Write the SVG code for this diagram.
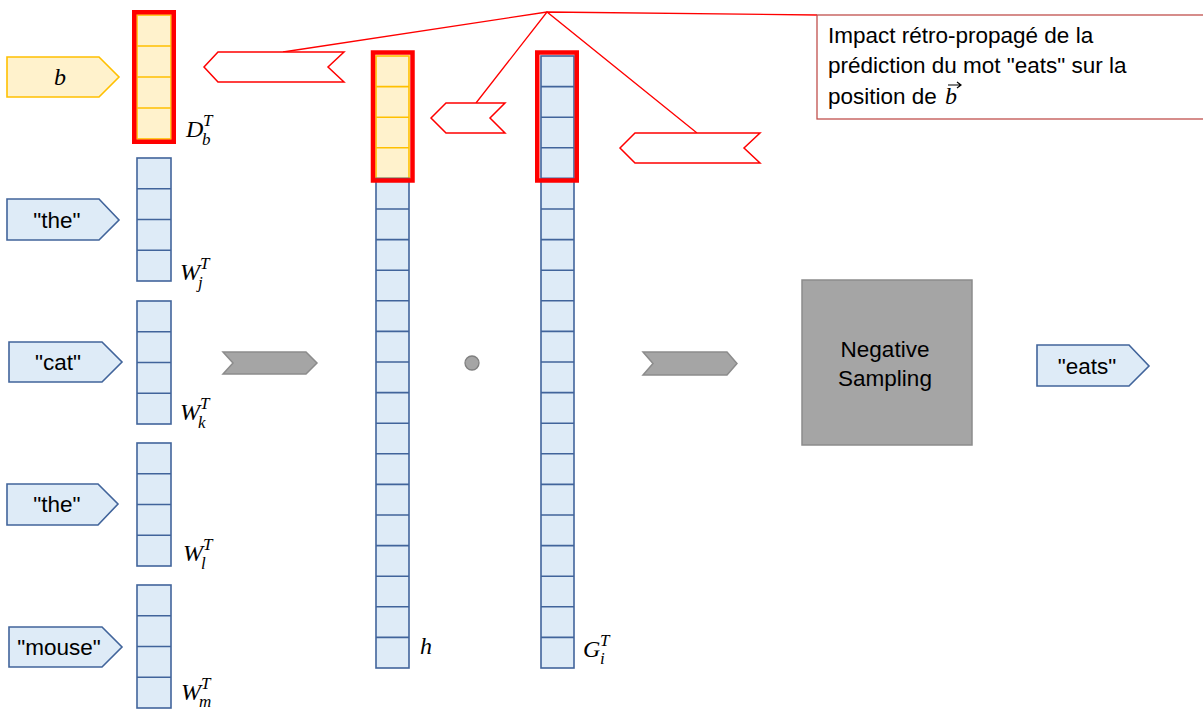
<svg xmlns="http://www.w3.org/2000/svg" width="1203" height="709" viewBox="0 0 1203 709">
<style>
.bcol{fill:#deebf7;stroke:#41649b;stroke-width:1.6}
.bdiv{fill:none;stroke:#41649b;stroke-width:1.6}
.ycol{fill:#fff2cc;stroke:#ffc000;stroke-width:1.6}
.ydiv{fill:none;stroke:#ffc000;stroke-width:1.6}
.frame{fill:none;stroke:#ff0000;stroke-width:4.5}
.pent{fill:#deebf7;stroke:#41649b;stroke-width:1.6}
.ypent{fill:#fff2cc;stroke:#ffc000;stroke-width:1.6}
.gray{fill:#a5a5a5;stroke:#8c8c8c;stroke-width:1.5}
.call{fill:#ffffff;stroke:#ff0000;stroke-width:1.5}
.lead{fill:none;stroke:#ff0000;stroke-width:1.3}
.t{font-family:"Liberation Sans",Arial,sans-serif;font-size:22.5px;fill:#000}
.m{font-family:"Liberation Serif","DejaVu Serif",serif;font-style:italic;font-size:24px;fill:#000}
.ms{font-family:"Liberation Serif","DejaVu Serif",serif;font-style:italic;font-size:17px;fill:#000}
</style>

<g id="connectors">
  <path class="lead" d="M283,52 L547,12 L817,15"/>
  <path class="lead" d="M476,103 L547,12 L697,133"/>
</g>

<g id="node-b">
  <polygon class="ypent" points="7,57 99,57 119,77 99,97 7,97"/>
  <text class="m" x="60" y="85" text-anchor="middle" font-size="25">b</text>
</g>
<g id="node-Db">
  <rect class="ycol" x="137" y="15" width="34" height="124"/>
  <path class="ydiv" d="M137,46H171M137,77H171M137,108H171"/>
  <rect class="frame" x="134.25" y="12.25" width="39.5" height="129.5"/>
  <text class="m" x="186" y="137">D</text>
  <text class="ms" x="203" y="126">T</text>
  <text class="ms" x="202" y="145">b</text>
</g>

<g id="node-the1">
  <polygon class="pent" points="7,199 99,199 119,220 99,240 7,240"/>
  <text class="t" x="57" y="228" text-anchor="middle">"the"</text>
</g>
<g id="node-Wj">
  <rect class="bcol" x="137" y="158" width="34" height="123"/>
  <path class="bdiv" d="M137,188.75H171M137,219.5H171M137,250.25H171"/>
  <text class="m" x="180" y="280">W</text>
  <text class="ms" x="200" y="269">T</text>
  <text class="ms" x="198" y="288">j</text>
</g>

<g id="node-cat">
  <polygon class="pent" points="9,342 102,342 122,362 102,382 9,382"/>
  <text class="t" x="58" y="370" text-anchor="middle">"cat"</text>
</g>
<g id="node-Wk">
  <rect class="bcol" x="137" y="301" width="34" height="123"/>
  <path class="bdiv" d="M137,331.75H171M137,362.5H171M137,393.25H171"/>
  <text class="m" x="180" y="420">W</text>
  <text class="ms" x="200" y="409">T</text>
  <text class="ms" x="198" y="428">k</text>
</g>

<g id="node-the2">
  <polygon class="pent" points="7,484 98,484 118,504 98,525 7,525"/>
  <text class="t" x="57" y="512" text-anchor="middle">"the"</text>
</g>
<g id="node-Wl">
  <rect class="bcol" x="137" y="443" width="34" height="123"/>
  <path class="bdiv" d="M137,473.75H171M137,504.5H171M137,535.25H171"/>
  <text class="m" x="183" y="561">W</text>
  <text class="ms" x="203" y="550">T</text>
  <text class="ms" x="201" y="569">l</text>
</g>

<g id="node-mouse">
  <polygon class="pent" points="9,627 102,627 122,647 102,667 9,667"/>
  <text class="t" x="59" y="655" text-anchor="middle">"mouse"</text>
</g>
<g id="node-Wm">
  <rect class="bcol" x="137" y="585" width="34" height="123"/>
  <path class="bdiv" d="M137,615.75H171M137,646.5H171M137,677.25H171"/>
  <text class="m" x="181" y="700">W</text>
  <text class="ms" x="201" y="689">T</text>
  <text class="ms" x="199" y="707">m</text>
</g>

<g id="node-chevron1">
  <polygon class="gray" points="223,352 306,352 317,363 306,374 223,374 233,363"/>
</g>

<g id="node-h">
  <rect class="ycol" x="376" y="56" width="33" height="122.4"/>
  <path class="ydiv" d="M376,86.6H409M376,117.2H409M376,147.8H409"/>
  <rect class="bcol" x="376" y="178.4" width="33" height="489.6"/>
  <path class="bdiv" d="M376,209H409M376,239.6H409M376,270.2H409M376,300.8H409M376,331.4H409M376,362H409M376,392.6H409M376,423.2H409M376,453.8H409M376,484.4H409M376,515H409M376,545.6H409M376,576.2H409M376,606.8H409M376,637.4H409"/>
  <rect class="frame" x="373" y="52.5" width="39.5" height="128"/>
  <text class="m" x="420" y="654">h</text>
</g>

<g id="node-dot">
  <circle cx="472" cy="363" r="7" fill="#a5a5a5" stroke="#7f7f7f" stroke-width="1.3"/>
</g>

<g id="node-G">
  <rect class="bcol" x="541" y="56" width="33" height="612"/>
  <path class="bdiv" d="M541,86.6H574M541,117.2H574M541,147.8H574M541,178.4H574M541,209H574M541,239.6H574M541,270.2H574M541,300.8H574M541,331.4H574M541,362H574M541,392.6H574M541,423.2H574M541,453.8H574M541,484.4H574M541,515H574M541,545.6H574M541,576.2H574M541,606.8H574M541,637.4H574"/>
  <rect class="frame" x="537.25" y="52.5" width="39.5" height="128"/>
  <text class="m" x="583" y="657">G</text>
  <text class="ms" x="600" y="646">T</text>
  <text class="ms" x="600" y="664">i</text>
</g>

<g id="node-callout1">
  <polygon class="call" points="204,67 218,52 344,52 328,67 344,82 218,82"/>
</g>
<g id="node-callout2">
  <polygon class="call" points="431,118 446,103 505,103 490,118 505,133 446,133"/>
</g>
<g id="node-callout3">
  <polygon class="call" points="620,148 635,133 760,133 744,148 760,163 635,163"/>
</g>

<g id="node-note">
  <rect x="817" y="15" width="400" height="104" fill="#ffffff" stroke="#c0504d" stroke-width="1.3"/>
  <text class="t" x="828" y="43">Impact rétro-propagé de la</text>
  <text class="t" x="828" y="73">prédiction du mot "eats" sur la</text>
  <text class="t" x="828" y="104">position de</text>
  <text class="m" x="945" y="104" font-size="26">b</text>
  <path d="M948,85H961M957,82L961,85L957,88" fill="none" stroke="#000" stroke-width="1.2"/>
</g>

<g id="node-chevron2">
  <polygon class="gray" points="643,352 727,352 737,363.5 727,375 643,375 653,363.5"/>
</g>

<g id="node-neg">
  <rect x="802" y="280" width="170" height="165" fill="#a5a5a5" stroke="#8c8c8c" stroke-width="1.5"/>
  <text class="t" x="885" y="357" text-anchor="middle">Negative</text>
  <text class="t" x="885" y="386" text-anchor="middle">Sampling</text>
</g>

<g id="node-eats">
  <polygon class="pent" points="1037,345 1129,345 1149,366 1129,386 1037,386"/>
  <text class="t" x="1087" y="374" text-anchor="middle">"eats"</text>
</g>
</svg>
